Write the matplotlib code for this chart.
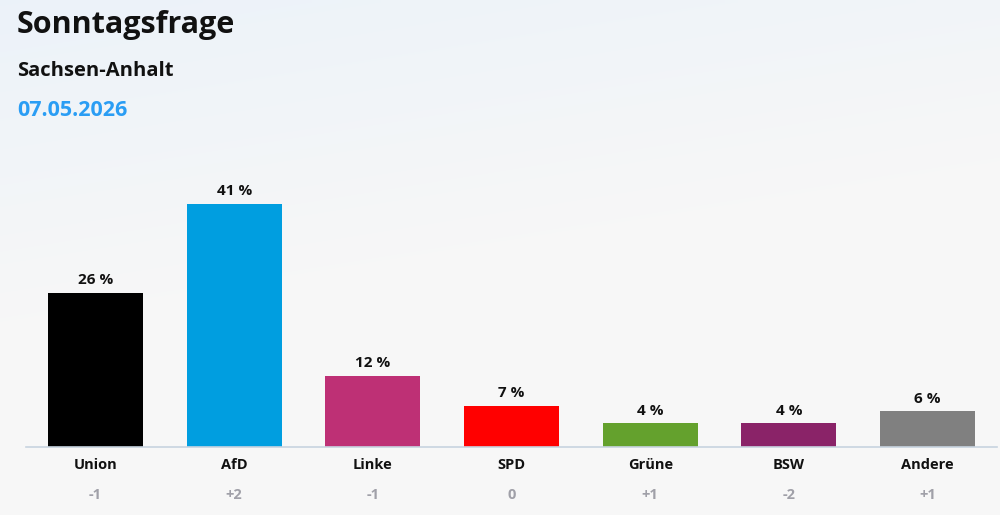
import matplotlib

matplotlib.use("Agg")
import matplotlib.pyplot as plt
import numpy as np

parties = ["Union", "AfD", "Linke", "SPD", "Grüne", "BSW", "Andere"]
values = [26, 41, 12, 7, 4, 4, 6]
changes = ["-1", "+2", "-1", "0", "+1", "-2", "+1"]
colors = ["#000000", "#009ee0", "#be3075", "#ff0000", "#64a12d", "#8a2368", "#808080"]

plt.rcParams["font.family"] = ["Open Sans", "DejaVu Sans"]

fig = plt.figure(figsize=(10, 5.15), dpi=100)

# background gradient: light blue top-left fading to light grey
bg = fig.add_axes([0, 0, 1, 1], zorder=-10)
h, w = 103, 200
yy, xx = np.mgrid[0:h, 0:w]
t = np.clip(1 - (yy / h * 1.6 + xx / w * 0.5), 0, 1)
top = np.array([0.925, 0.950, 0.978])
bottom = np.array([0.969, 0.969, 0.969])
img = bottom + (top - bottom) * t[..., None]
bg.imshow(img, aspect="auto", extent=[0, 1, 0, 1], interpolation="bilinear")
bg.axis("off")

ax = fig.add_axes([0.0262, 0.132, 0.9707, 0.557])
ax.patch.set_alpha(0)
x = np.arange(len(parties))
ax.bar(x, values, width=0.685, color=colors, zorder=2)
ax.set_xlim(-0.5, len(parties) - 0.5)
ax.set_ylim(0, 48.4)
for s in ["top", "right", "left"]:
    ax.spines[s].set_visible(False)
ax.spines["bottom"].set_color("#c8d4e0")
ax.spines["bottom"].set_linewidth(1.2)
ax.set_yticks([])
ax.set_xticks([])

for xi, v in zip(x, values):
    ax.annotate(f"{v} %", (xi, v), xytext=(0, 4), textcoords="offset points",
                ha="center", va="bottom", fontsize=11, fontweight="bold", color="#111111")

for xi, name, ch in zip(x, parties, changes):
    ax.annotate(name, (xi, 0), xytext=(0, -13), textcoords="offset points",
                ha="center", va="center", fontsize=10.5, fontweight="bold", color="#111111")
    ax.annotate(ch, (xi, 0), xytext=(0, -34.5), textcoords="offset points",
                ha="center", va="center", fontsize=10.5, fontweight="bold", color="#a0a0a8")

fig.text(0.017, 1 - 25 / 515, "Sonntagsfrage", fontsize=22, fontweight="bold",
         color="#111111", va="center", ha="left")
fig.text(0.017, 1 - 71 / 515, "Sachsen-Anhalt", fontsize=14.5, fontweight="bold",
         color="#111111", va="center", ha="left")
fig.text(0.017, 1 - 111 / 515, "07.05.2026", fontsize=15.5, fontweight="bold",
         color="#2a9df4", va="center", ha="left")

fig.savefig("out.png", dpi=100)
plt.close(fig)
